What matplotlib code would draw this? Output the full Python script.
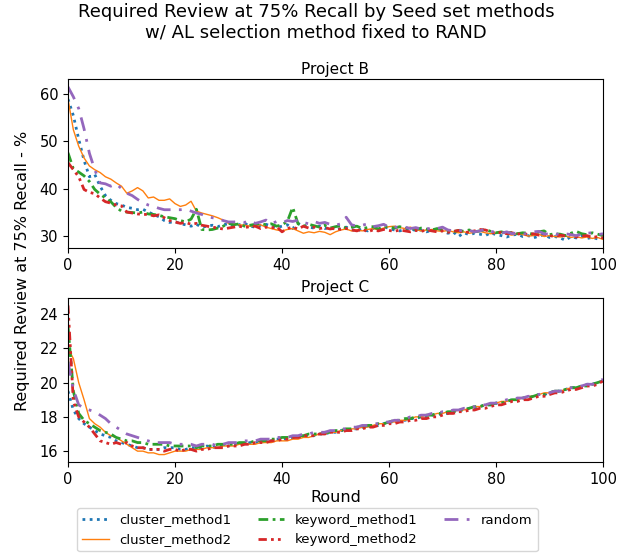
import matplotlib
matplotlib.use("Agg")
import matplotlib.pyplot as plt
import numpy as np

rounds = list(range(101))

b_cluster_method1 = [
    59.0, 55.5, 50.5, 46.0, 42.5, 43.0, 40.5, 38.5, 37.5, 36.8,
    36.5, 36.0, 35.8, 35.5, 35.6, 35.0, 34.5, 34.0, 33.2, 32.8,
    33.0, 32.5, 32.3, 32.0, 32.4, 31.8, 32.0, 32.2, 31.9, 32.3,
    32.5, 32.0, 32.3, 32.6, 32.0, 31.8, 32.2, 32.4, 32.0, 31.7,
    32.0, 32.3, 31.5, 32.6, 32.0, 31.8, 31.6, 32.0, 31.5, 31.8,
    31.2, 31.5, 31.8, 31.3, 31.0, 31.4, 31.0, 31.6, 31.2, 31.9,
    31.5, 31.2, 31.0, 31.3, 31.6, 31.0, 31.2, 30.8, 31.1, 31.4,
    31.0, 30.5, 30.8, 29.8, 30.6, 30.2, 30.5, 30.3, 30.0, 30.6,
    30.2, 30.0, 29.7, 30.1, 30.3, 29.8, 30.0, 29.5, 29.9, 30.2,
    29.6, 29.8, 29.5, 29.0, 29.8, 29.5, 29.9, 29.4, 29.6, 29.3,
    29.5]
b_cluster_method2 = [
    59.0, 52.5, 49.0, 46.5, 44.8, 44.0, 43.4, 42.5, 42.0, 41.2,
    40.5, 39.0, 39.5, 40.2, 39.5, 38.0, 38.2, 37.5, 37.5, 37.8,
    36.8, 36.2, 36.5, 37.3, 35.2, 34.8, 34.5, 34.2, 33.8, 33.3,
    32.6, 32.5, 32.3, 32.2, 32.0, 32.1, 32.3, 31.8, 31.5, 31.2,
    31.0, 31.3, 31.5, 31.0, 30.5, 30.8, 30.6, 30.9, 30.7, 30.2,
    30.8, 31.2, 31.4, 31.0, 31.2, 31.0, 31.3, 31.5, 31.2, 31.6,
    31.9, 32.0, 31.7, 31.5, 31.8, 31.3, 31.0, 31.2, 31.3, 31.0,
    30.9, 31.1, 30.8, 30.6, 30.8, 30.5, 30.7, 30.9, 30.6, 30.4,
    30.5, 30.7, 30.3, 30.1, 30.5, 30.2, 29.9, 30.0, 30.3, 29.8,
    30.0, 29.8, 29.7, 29.9, 29.6, 29.8, 29.5, 29.7, 29.4, 29.6,
    29.2]
b_keyword_method1 = [
    47.6, 44.2, 43.5, 42.7, 41.5, 39.8, 38.8, 38.0, 37.2, 36.0,
    35.2, 35.0, 34.9, 34.8, 35.0, 34.6, 34.5, 34.3, 34.0, 33.8,
    33.6, 33.2, 32.9, 33.5, 35.6, 31.3, 31.2, 31.3, 31.6, 32.0,
    32.6, 32.3, 32.5, 32.0, 32.2, 32.4, 32.6, 32.3, 32.5, 32.0,
    32.3, 33.0, 36.0, 32.5, 32.0, 32.4, 32.1, 31.8, 32.2, 31.6,
    31.9, 32.1, 31.6, 31.8, 32.0, 31.5, 31.7, 31.9, 31.4, 32.0,
    31.8, 31.6, 31.9, 31.5, 31.7, 31.3, 31.6, 31.4, 31.2, 31.5,
    31.2, 31.0, 30.8, 31.1, 30.9, 31.2, 30.8, 31.0, 31.3, 30.9,
    30.6, 30.8, 30.5, 30.7, 30.4, 30.6, 30.5, 30.3, 30.8, 31.0,
    30.2, 30.4, 30.3, 30.0, 30.5, 30.9, 30.4, 30.2, 30.6, 30.3,
    30.0]
b_keyword_method2 = [
    45.5, 44.0, 42.5, 39.8, 39.2, 38.9, 38.0, 37.2, 36.9, 36.5,
    36.3, 35.0, 34.8, 34.6, 34.5, 34.5, 34.2, 34.4, 33.8, 33.2,
    32.9, 32.6, 32.8, 32.4, 32.6, 32.2, 32.0, 31.8, 31.6, 31.4,
    31.6, 31.8, 32.0, 31.7, 31.9, 32.0, 31.5, 31.8, 31.6, 31.9,
    30.8, 31.5, 31.8, 31.4, 32.0, 31.6, 31.8, 31.5, 31.7, 31.4,
    31.6, 31.3, 31.5, 31.2, 31.0, 31.4, 30.8, 31.2, 31.0, 31.3,
    31.1, 30.9, 31.2, 31.0, 30.8, 31.1, 30.9, 31.2, 31.0, 30.8,
    31.0, 30.7, 30.9, 31.1, 30.6, 30.8, 31.0, 31.3, 31.2, 30.8,
    30.5, 30.7, 30.4, 30.6, 30.3, 30.5, 30.2, 30.4, 30.1, 30.3,
    30.0, 29.8, 30.1, 29.9, 30.2, 29.7, 29.9, 30.0, 29.6, 29.8,
    29.5]
b_random = [
    61.6, 59.5, 57.0, 52.7, 47.5, 44.0, 41.2, 41.0, 40.5, 41.0,
    40.0, 39.0, 38.5, 37.7, 37.0, 36.5, 36.2, 35.8, 35.5, 35.5,
    35.5, 35.5, 35.6, 35.2, 34.8, 34.5, 34.0, 33.8, 33.6, 33.2,
    32.9, 32.9, 33.0, 32.8, 33.2, 32.6, 32.9, 33.3, 32.5, 33.0,
    32.7, 33.2, 33.0, 33.3, 32.8, 32.5, 33.0, 32.6, 32.8, 32.4,
    32.2, 32.5, 33.9, 32.3, 32.0, 32.2, 32.5, 31.9, 32.1, 32.4,
    31.8, 31.9, 31.6, 31.8, 31.5, 31.7, 31.4, 31.6, 31.3, 31.5,
    31.8, 31.2, 31.0, 31.2, 30.9, 31.1, 30.8, 31.0, 31.4, 30.9,
    30.7, 30.5, 30.8, 30.4, 30.6, 30.3, 30.5, 30.8, 30.9, 30.4,
    30.3, 30.5, 30.1, 30.4, 30.2, 30.0, 30.3, 30.5, 30.6, 30.2,
    30.4]

c_cluster_method1 = [
    19.5, 18.4, 17.9, 17.6, 17.4, 17.2, 17.0, 16.9, 16.8, 16.6,
    16.5, 16.4, 16.3, 16.2, 16.2, 16.1, 16.1, 16.1, 16.2, 16.2,
    16.2, 16.1, 16.1, 16.2, 16.2, 16.2, 16.3, 16.2, 16.3, 16.3,
    16.3, 16.4, 16.4, 16.4, 16.5, 16.5, 16.5, 16.6, 16.6, 16.7,
    16.7, 16.7, 16.8, 16.8, 16.9, 16.9, 16.9, 17.0, 17.0, 17.1,
    17.1, 17.2, 17.2, 17.3, 17.3, 17.4, 17.4, 17.5, 17.5, 17.6,
    17.7, 17.7, 17.8, 17.8, 17.9, 17.9, 18.0, 18.0, 18.1, 18.1,
    18.2, 18.2, 18.3, 18.4, 18.4, 18.5, 18.5, 18.6, 18.7, 18.7,
    18.8, 18.8, 18.9, 19.0, 19.0, 19.1, 19.1, 19.2, 19.3, 19.3,
    19.4, 19.5, 19.5, 19.6, 19.7, 19.7, 19.8, 19.9, 19.9, 20.0,
    20.1]
c_cluster_method2 = [
    22.0, 21.4, 20.0, 19.0, 17.9, 17.6, 17.4, 17.1, 16.9, 16.8,
    16.6, 16.4, 16.2, 16.0, 16.0, 15.9, 15.9, 15.8, 15.8, 15.9,
    16.0, 16.0, 16.0, 16.1, 16.1, 16.1, 16.2, 16.2, 16.2, 16.3,
    16.3, 16.3, 16.4, 16.4, 16.4, 16.4, 16.5, 16.5, 16.5, 16.6,
    16.6, 16.6, 16.7, 16.7, 16.8, 16.8, 16.9, 17.0, 17.0, 17.1,
    17.1, 17.2, 17.2, 17.3, 17.3, 17.4, 17.4, 17.5, 17.6, 17.6,
    17.7, 17.7, 17.8, 17.8, 17.9, 18.0, 18.0, 18.1, 18.1, 18.2,
    18.2, 18.3, 18.3, 18.4, 18.4, 18.5, 18.6, 18.6, 18.7, 18.7,
    18.8, 18.9, 18.9, 19.0, 19.0, 19.1, 19.2, 19.2, 19.3, 19.4,
    19.4, 19.5, 19.5, 19.6, 19.7, 19.7, 19.8, 19.9, 19.9, 20.0,
    20.1]
c_keyword_method1 = [
    23.3, 19.5, 18.2, 17.8, 17.6, 17.4, 17.2, 17.1, 17.0, 16.8,
    16.7, 16.6, 16.6, 16.5, 16.5, 16.4, 16.4, 16.4, 16.4, 16.3,
    16.3, 16.3, 16.3, 16.3, 16.2, 16.3, 16.3, 16.3, 16.4, 16.4,
    16.4, 16.4, 16.5, 16.5, 16.5, 16.6, 16.6, 16.6, 16.7, 16.7,
    16.8, 16.8, 16.8, 16.9, 16.9, 17.0, 17.0, 17.0, 17.1, 17.1,
    17.2, 17.2, 17.3, 17.3, 17.4, 17.4, 17.5, 17.5, 17.6, 17.6,
    17.7, 17.8, 17.8, 17.9, 17.9, 18.0, 18.0, 18.1, 18.1, 18.2,
    18.2, 18.3, 18.3, 18.4, 18.4, 18.5, 18.6, 18.6, 18.7, 18.7,
    18.8, 18.8, 18.9, 19.0, 19.0, 19.1, 19.1, 19.2, 19.3, 19.3,
    19.4, 19.5, 19.5, 19.6, 19.7, 19.7, 19.8, 19.8, 19.9, 20.0,
    20.1]
c_keyword_method2 = [
    24.5, 18.9, 18.0, 17.7, 17.4, 17.0, 16.6, 16.5, 16.4, 16.5,
    16.4, 16.5, 16.3, 16.2, 16.2, 16.1, 16.1, 16.1, 16.0, 16.1,
    16.1, 16.0, 16.1, 16.1, 16.0, 16.1, 16.1, 16.2, 16.2, 16.2,
    16.3, 16.3, 16.3, 16.4, 16.4, 16.5, 16.5, 16.5, 16.6, 16.6,
    16.7, 16.7, 16.8, 16.8, 16.9, 16.9, 16.9, 17.0, 17.0, 17.1,
    17.1, 17.1, 17.2, 17.2, 17.3, 17.3, 17.4, 17.4, 17.5, 17.5,
    17.6, 17.6, 17.7, 17.7, 17.8, 17.8, 17.9, 17.9, 18.0, 18.0,
    18.1, 18.2, 18.2, 18.3, 18.3, 18.4, 18.4, 18.5, 18.5, 18.6,
    18.7, 18.7, 18.8, 18.9, 18.9, 19.0, 19.0, 19.1, 19.2, 19.2,
    19.3, 19.4, 19.4, 19.5, 19.6, 19.6, 19.7, 19.8, 19.8, 19.9,
    20.1]
c_random = [
    21.2, 19.6, 18.7, 18.5, 18.4, 18.3, 18.1, 17.9, 17.6, 17.4,
    17.2, 17.0, 16.9, 16.8, 16.7, 16.6, 16.5, 16.5, 16.5, 16.5,
    16.4, 16.4, 16.4, 16.4, 16.3, 16.4, 16.4, 16.4, 16.3, 16.4,
    16.5, 16.5, 16.5, 16.6, 16.6, 16.6, 16.7, 16.7, 16.7, 16.8,
    16.8, 16.8, 16.9, 16.9, 17.0, 17.0, 17.1, 17.1, 17.1, 17.2,
    17.2, 17.3, 17.3, 17.4, 17.4, 17.5, 17.5, 17.6, 17.6, 17.7,
    17.7, 17.8, 17.8, 17.9, 18.0, 18.0, 18.1, 18.1, 18.2, 18.2,
    18.3, 18.3, 18.4, 18.4, 18.5, 18.5, 18.6, 18.7, 18.7, 18.8,
    18.8, 18.9, 19.0, 19.0, 19.1, 19.1, 19.2, 19.2, 19.3, 19.4,
    19.4, 19.5, 19.5, 19.6, 19.7, 19.7, 19.8, 19.9, 19.9, 20.0,
    20.2]

method_names = ["cluster_method1", "cluster_method2", "keyword_method1",
                "keyword_method2", "random"]
project_titles = ["Project B", "Project C"]

styles = {
    "cluster_method1": dict(color="tab:blue", lw=2, linestyle=(0, (1, 1.6))),
    "cluster_method2": dict(color="tab:orange", lw=1, linestyle="-"),
    "keyword_method1": dict(color="tab:green", lw=2, linestyle=(0, (3.5, 1.6, 1, 1.6))),
    "keyword_method2": dict(color="tab:red", lw=2, linestyle=(0, (3, 1.5, 1, 1.5, 1, 1.5))),
    "random": dict(color="tab:purple", lw=2, linestyle=(0, (5, 3, 1, 3))),
}

data = {
    "Project B": [b_cluster_method1, b_cluster_method2, b_keyword_method1,
                  b_keyword_method2, b_random],
    "Project C": [c_cluster_method1, c_cluster_method2, c_keyword_method1,
                  c_keyword_method2, c_random],
}

fig = plt.figure(figsize=(6.32, 5.58), dpi=100)
ax1 = fig.add_axes([0.1076, 0.5556, 0.8465, 0.3024])
ax2 = fig.add_axes([0.1076, 0.172, 0.8465, 0.294])

for ax, title in zip([ax1, ax2], project_titles):
    for name, series in zip(method_names, data[title]):
        ax.plot(rounds, series, label=name, **styles[name])
    ax.set_title(title, fontsize=11, pad=4)
    ax.set_xlim(0, 100)
    ax.tick_params(labelsize=10.5)

ax1.set_yticks([30, 40, 50, 60])
ax2.set_yticks([16, 18, 20, 22, 24])
ax2.set_xlabel("Round", fontsize=11.5, labelpad=2)

fig.suptitle("Required Review at 75% Recall by Seed set methods\nw/ AL selection method fixed to RAND",
             fontsize=13, y=0.995)
fig.text(0.035, 0.515, "Required Review at 75% Recall - %", rotation=90,
         ha="center", va="center", fontsize=11.5)

handles, labels = ax1.get_legend_handles_labels()
fig.legend(handles, labels, loc="lower center", ncol=3, bbox_to_anchor=(0.4866, 0.0),
           fontsize=9.5, handlelength=2.0, columnspacing=2.0, frameon=True)

fig.savefig("out.png", dpi=100)
